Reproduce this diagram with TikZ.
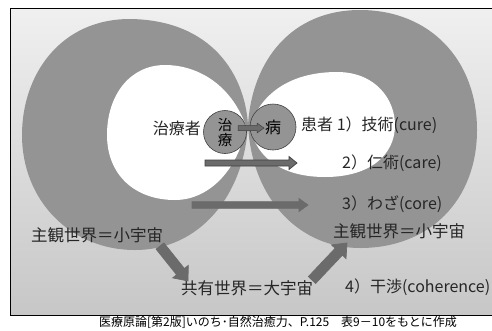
\documentclass[tikz,border=0pt]{standalone}
\usepackage{fontspec}
\setmainfont{Noto Sans CJK JP}
\usetikzlibrary{calc}
\definecolor{lobe}{gray}{0.58}
\definecolor{arrowfill}{gray}{0.42}
\definecolor{arrowline}{gray}{0.25}
\definecolor{bgtop}{gray}{0.94}
\definecolor{bgbot}{gray}{0.78}
% fat arrow: [style]{from}{to}{half shaft}{half head}{head length}
\newcommand\fatarrow[6][]{%
  \coordinate (fa-b) at ($(#3)!#6!(#2)$);
  \draw[#1] ($(#2)!#4!90:(#3)$) -- ($(fa-b)!#4!90:(#3)$) -- ($(fa-b)!#5!90:(#3)$)
    -- (#3) -- ($(fa-b)!#5!-90:(#3)$) -- ($(fa-b)!#4!-90:(#3)$) -- ($(#2)!#4!-90:(#3)$) -- cycle;}
\begin{document}
\begin{tikzpicture}[x=1pt,y=-1pt,
  lobeshape/.style={fill=lobe},
  inner/.style={fill=white},
  smallc/.style={circle, draw=arrowline, line width=0.6pt, fill=lobe, minimum size=43pt, inner sep=0pt},
  fat/.style={draw=arrowline, fill=arrowfill, line width=0.7pt},
  txt/.style={font=\fontsize{16}{18}\selectfont, inner sep=0pt, text=black!85},
  captext/.style={font=\fontsize{12}{14}\selectfont, inner sep=0pt}]
\useasboundingbox (0,0) rectangle (492,330);
\fill[white] (0,0) rectangle (492,330);
\shade[top color=bgtop, bottom color=bgbot] (10,8) rectangle (492,315);
\draw[line width=0.8pt] (492,8) -- (10,8) -- (10,315) -- (492,315);
% lobes
\fill[lobeshape] (248,125) .. controls (245,75) and (212,20) .. (130,19)
  .. controls (60,19) and (22,75) .. (22,135)
  .. controls (22,200) and (70,250) .. (135,250)
  .. controls (200,250) and (244,195) .. (248,125) -- cycle;
\fill[lobeshape] (248,125) .. controls (252,60) and (292,10) .. (360,10)
  .. controls (430,10) and (477,60) .. (477,130)
  .. controls (477,200) and (430,248) .. (360,248)
  .. controls (300,248) and (252,200) .. (248,125) -- cycle;
% white inner regions
\fill[inner] (246,126) .. controls (230,82) and (195,65) .. (165,65)
  .. controls (130,65) and (107,95) .. (107,135)
  .. controls (107,175) and (135,200) .. (175,200)
  .. controls (212,200) and (240,165) .. (246,126) -- cycle;
\fill[inner] (250,126) .. controls (264,86) and (300,72) .. (337,72)
  .. controls (376,72) and (395,100) .. (395,125)
  .. controls (395,155) and (370,177) .. (325,177)
  .. controls (285,177) and (256,160) .. (250,126) -- cycle;
% small circles
\node[smallc, font=\fontsize{14.5}{15}\selectfont, align=center] (cl) at (225,132) {治\\療};
\node[smallc, minimum size=46pt, font=\fontsize{16}{18}\selectfont] (cr) at (273,127) {病};
% texts
\node[txt, anchor=east] (chiryosha) at (201,128) {治療者};
\node[txt, anchor=west] (t1) at (301,125) {患者 1）技術(cure)};
\node[txt, anchor=west] (t2) at (342,163) {2）仁術(care)};
\node[txt, anchor=west] (t3) at (342,204) {3）わざ(core)};
\node[txt, anchor=west] (t4) at (345,287) {4）干渉(coherence)};
\node[txt, font=\fontsize{16.5}{18}\selectfont, anchor=west] (sl) at (31,235) {主観世界＝小宇宙};
\node[txt, font=\fontsize{16.5}{18}\selectfont, anchor=west] (sr) at (333,231) {主観世界＝小宇宙};
\node[txt, font=\fontsize{16.5}{18}\selectfont, anchor=west] (kyo) at (181,288) {共有世界＝大宇宙};
\node[captext] (caption) at (278,322) {医療原論[第2版]いのち･自然治癒力、P.125　表9－10をもとに作成};
% arrows
\coordinate (s0) at (238,128); \coordinate (e0) at (264,128);
\fatarrow[fat, line width=0.5pt]{s0}{e0}{2.5pt}{5pt}{7pt}
\coordinate (s2) at (205,163); \coordinate (e2) at (297,163);
\fatarrow[fat]{s2}{e2}{3pt}{6.5pt}{8pt}
\coordinate (s3) at (192,205); \coordinate (e3) at (308,205);
\fatarrow[fat, draw=arrowfill]{s3}{e3}{3.3pt}{6.5pt}{9pt}
\coordinate (s4) at (160,246); \coordinate (e4) at (188,281);
\fatarrow[fat, draw=arrowfill]{s4}{e4}{5pt}{10pt}{12pt}
\coordinate (s5) at (312,280); \coordinate (e5) at (347,243);
\fatarrow[fat, draw=arrowfill]{s5}{e5}{5pt}{10pt}{12pt}
\end{tikzpicture}
\end{document}
